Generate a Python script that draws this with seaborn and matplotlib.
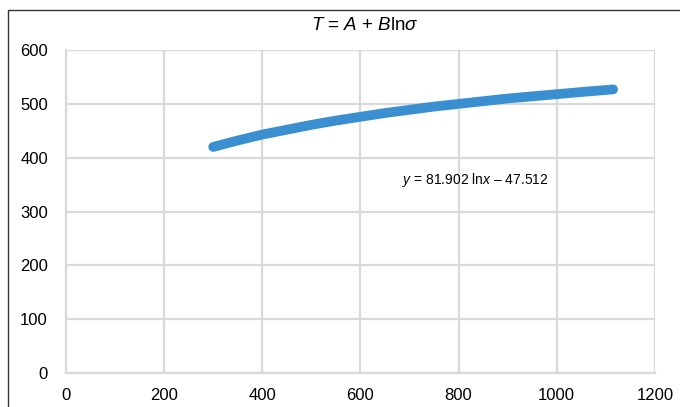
import numpy as np
import pandas as pd
import matplotlib.pyplot as plt
from matplotlib.patches import Rectangle
import seaborn as sns

# stress (sigma) and temperature
sigma = [300, 350, 400, 450, 500, 550, 600, 650, 700, 750, 800, 850, 900, 950, 1000, 1050, 1115]
temp = [420, 432, 443, 452, 461, 469, 476, 483, 489, 495, 500, 505, 510, 514, 518, 522, 527]

x_ticks = [0, 200, 400, 600, 800, 1000, 1200]
y_ticks = [0, 100, 200, 300, 400, 500, 600]
fit_label = r"$y$ = 81.902 ln$x$ – 47.512"

df = pd.DataFrame({"sigma": sigma, "T": temp})

sns.set_style("white")
plt.rcParams['font.family'] = ['Liberation Sans', 'DejaVu Sans']
plt.rcParams['mathtext.fontset'] = 'custom'
plt.rcParams['mathtext.it'] = 'Liberation Sans:italic'
plt.rcParams['mathtext.rm'] = 'Liberation Sans'

fig = plt.figure(figsize=(6.8, 4.07), dpi=100)
ax = fig.add_axes([0.097, 0.0835, 0.866, 0.7935])

sns.lineplot(data=df, x="sigma", y="T", ax=ax, color="#3a8fd0", linewidth=7,
             solid_capstyle="round", solid_joinstyle="round")

ax.set_xlim(0, 1200)
ax.set_ylim(0, 600)
ax.set_xticks(x_ticks)
ax.set_yticks(y_ticks)
ax.grid(True, color="#d9d9d9", linewidth=1.6)
ax.set_axisbelow(True)
ax.tick_params(axis="both", length=0, labelsize=12, colors="black")
ax.tick_params(axis="y", pad=13)
ax.tick_params(axis="x", pad=11)
for side in ["top", "right"]:
    ax.spines[side].set_visible(False)
for side in ["left", "bottom"]:
    ax.spines[side].set_color("#d9d9d9")
    ax.spines[side].set_linewidth(1.6)
ax.set_xlabel("")
ax.set_ylabel("")

ax.text(835, 358, fit_label, fontsize=10, ha="center", va="center", color="black")
fig.text(0.537, 0.938, r"$T$ = $A$ + $B$ln$\sigma$", fontsize=13.5, ha="center", va="center",
         color="black")

# outer chart frame, cut off at the right and bottom
fig.patches.append(Rectangle((8 / 680, -0.1), 1.1, 1 - 10 / 407 + 0.1, transform=fig.transFigure,
                             fill=False, edgecolor="#333333", linewidth=1.0))

fig.savefig("out.png", dpi=100)
